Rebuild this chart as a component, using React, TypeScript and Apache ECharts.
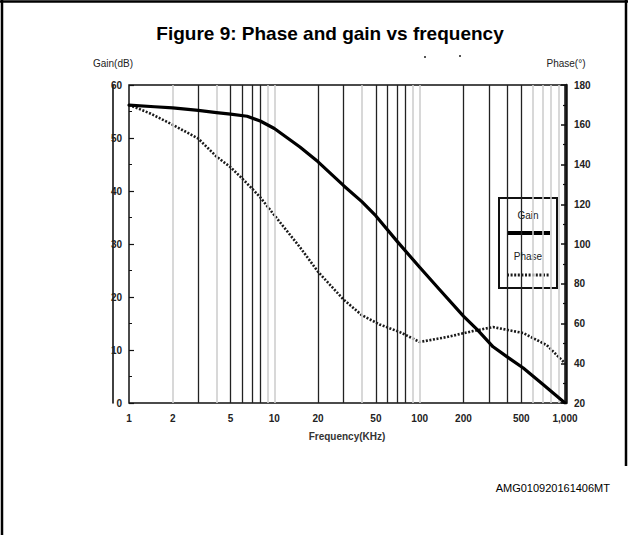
import React, { useEffect, useRef } from "react";
import * as echarts from "echarts";

const FONT = "'Liberation Sans', Arial, Helvetica, sans-serif";

// Gain curve (dB) vs frequency (kHz)
const gainFreq = [1, 1.5, 2, 3, 4, 5, 6.5, 8, 10, 15, 20, 30, 40, 50, 70, 100, 134, 200, 250, 320, 400, 516, 700, 1000];
const gainDb = [56.2, 55.9, 55.7, 55.2, 54.8, 54.5, 54.1, 53.2, 51.8, 48.3, 45.5, 41, 38, 35.3, 30.5, 25.6, 21.7, 16.4, 13.8, 10.6, 8.7, 6.6, 3.6, 0];

// Phase curve (degrees) vs frequency (kHz)
const phaseFreq = [1, 1.4, 2, 3, 4, 5, 6, 7, 8, 10, 15, 20, 30, 40, 53, 73, 100, 154, 233, 320, 516, 750, 950, 1000];
const phaseDeg = [170, 165.7, 160, 153, 144, 138.6, 133, 128, 123.5, 114.5, 98.4, 86, 72, 64.2, 59.5, 55.7, 50.7, 53.2, 56.2, 58.2, 55.2, 49.1, 41.6, 40];

// Vertical grid lines (kHz)
const gridDark = [3, 5, 6, 7, 8, 20, 30, 50, 60, 70, 80, 200, 300, 400, 500];
const gridLight = [2, 4, 9, 10, 40, 90, 100, 600, 700, 800, 900];

// X tick labels
const xTicks = [1, 2, 5, 10, 20, 50, 100, 200, 500, 1000];
const xTickText = ["1", "2", "5", "10", "20", "50", "100", "200", "500", "1,000"];

export default function App() {
  const ref = useRef<HTMLDivElement>(null);

  useEffect(() => {
    if (!ref.current) return;
    const chart = echarts.init(ref.current, null, { renderer: "svg" });

    const gridMarks: any[] = [];
    gridDark.forEach((v) =>
      gridMarks.push({ xAxis: v, lineStyle: { color: "#222", width: 1.3, type: "solid" }, label: { show: false } })
    );
    gridLight.forEach((v) =>
      gridMarks.push({ xAxis: v, lineStyle: { color: "#cfcfcf", width: 1.6, type: "solid" }, label: { show: false } })
    );
    const labelMarks: any[] = xTicks.map((v, i) => ({
      xAxis: v,
      lineStyle: { color: "rgba(255,255,255,0)", width: 1, type: "solid" },
      label: {
        show: true,
        position: "start",
        distance: 10,
        formatter: xTickText[i],
        color: "#222",
        fontSize: 10,
        fontWeight: "bold",
        fontFamily: FONT,
      },
    }));

    const option: any = {
      animation: false,
      backgroundColor: "#ffffff",
      grid: {
        left: 129,
        right: 63,
        top: 85,
        bottom: 132,
        show: true,
        borderColor: "#111",
        borderWidth: 1.5,
        backgroundColor: "transparent",
        outerBoundsMode: "none",
      },
      xAxis: {
        type: "log",
        logBase: 10,
        min: 1,
        max: 1000,
        axisLine: { show: false },
        axisTick: { show: false },
        axisLabel: { show: false },
        splitLine: { show: false },
        minorSplitLine: { show: false },
        name: "Frequency(KHz)",
        nameLocation: "middle",
        nameGap: 28,
        nameTextStyle: { fontSize: 10, fontWeight: "bold", color: "#333", fontFamily: FONT },
      },
      yAxis: [
        {
          type: "value",
          position: "left",
          offset: 16,
          min: 0,
          max: 60,
          interval: 10,
          axisLine: { show: true, lineStyle: { color: "#111", width: 1.6 } },
          axisTick: { show: false },
          axisLabel: { margin: -9, fontSize: 10, fontWeight: "bold", color: "#222", fontFamily: FONT },
          splitLine: { show: false },
          name: "Gain(dB)",
          nameLocation: "end",
          nameGap: 17,
          nameTextStyle: { fontSize: 10, color: "#222", fontFamily: FONT, align: "center" },
        },
        {
          type: "value",
          position: "right",
          offset: 1,
          min: 20,
          max: 180,
          interval: 20,
          axisLine: { show: true, lineStyle: { color: "#111", width: 2.5 } },
          axisTick: { show: true, inside: true, length: 5, lineStyle: { color: "#111", width: 1.5 } },
          minorTick: { show: true, splitNumber: 2, length: 3, lineStyle: { color: "#111", width: 1.2 } },
          axisLabel: { margin: 8, fontSize: 10, fontWeight: "bold", color: "#222", fontFamily: FONT },
          splitLine: { show: false },
          name: "Phase(°)",
          nameLocation: "end",
          nameGap: 17,
          nameTextStyle: { fontSize: 10, color: "#222", fontFamily: FONT, align: "center" },
        },
        {
          type: "value",
          position: "left",
          offset: 0,
          min: 0,
          max: 60,
          interval: 10,
          axisLine: { show: false },
          axisTick: { show: true, inside: true, length: 5, lineStyle: { color: "#111", width: 1.2 } },
          minorTick: { show: true, splitNumber: 2, length: 3, lineStyle: { color: "#111", width: 1 } },
          axisLabel: { show: false },
          splitLine: { show: false },
        },
      ],
      series: [
        {
          type: "line",
          name: "grid",
          data: [],
          xAxisIndex: 0,
          yAxisIndex: 0,
          z: 1,
          silent: true,
          markLine: {
            silent: true,
            symbol: ["none", "none"],
            animation: false,
            data: gridMarks,
          },
        },
        {
          type: "line",
          name: "ticks",
          data: [],
          xAxisIndex: 0,
          yAxisIndex: 0,
          z: 6,
          silent: true,
          markLine: {
            silent: true,
            symbol: ["none", "none"],
            animation: false,
            data: labelMarks,
          },
        },
        {
          type: "line",
          name: "Gain",
          xAxisIndex: 0,
          yAxisIndex: 0,
          z: 5,
          symbol: "none",
          data: gainFreq.map((f, i) => [f, gainDb[i]]),
          lineStyle: { color: "#000", width: 3.2, cap: "round", join: "round" },
        },
        {
          type: "line",
          name: "Phase",
          xAxisIndex: 0,
          yAxisIndex: 1,
          z: 4,
          symbol: "none",
          data: phaseFreq.map((f, i) => [f, phaseDeg[i]]),
          lineStyle: { color: "#1a1a1a", width: 2.6, type: [2, 1.6], cap: "butt" },
        },
      ],
      graphic: [
        { type: "line", shape: { x1: 2, y1: 0, x2: 2, y2: 535 }, style: { stroke: "#000", lineWidth: 2.5 }, z: 10 },
        { type: "line", shape: { x1: 0, y1: 1.5, x2: 628, y2: 1.5 }, style: { stroke: "#000", lineWidth: 2.5 }, z: 10 },
        { type: "line", shape: { x1: 626, y1: 0, x2: 626, y2: 466 }, style: { stroke: "#000", lineWidth: 2.5 }, z: 10 },
        {
          type: "text",
          x: 330,
          y: 33,
          style: {
            text: "Figure 9: Phase and gain vs frequency",
            fontSize: 19,
            fontWeight: "bold",
            fontFamily: FONT,
            fill: "#000",
            textAlign: "center",
            textVerticalAlign: "middle",
          },
          z: 10,
        },
        { type: "rect", shape: { x: 424, y: 56, width: 2, height: 2 }, style: { fill: "#555" }, z: 10 },
        { type: "rect", shape: { x: 459, y: 55, width: 2, height: 2 }, style: { fill: "#555" }, z: 10 },
        {
          type: "group",
          z: 20,
          children: [
            { type: "rect", shape: { x: 499, y: 198, width: 58, height: 90 }, style: { fill: "#fff", stroke: "#111", lineWidth: 2 } },
            {
              type: "text",
              x: 528,
              y: 215,
              style: { text: "Gain", fontSize: 10, fontFamily: FONT, fill: "#222", textAlign: "center", textVerticalAlign: "middle" },
            },
            { type: "line", shape: { x1: 507, y1: 233, x2: 550, y2: 233 }, style: { stroke: "#000", lineWidth: 4 } },
            {
              type: "text",
              x: 528,
              y: 256,
              style: { text: "Phase", fontSize: 10, fontFamily: FONT, fill: "#222", textAlign: "center", textVerticalAlign: "middle" },
            },
            {
              type: "line",
              shape: { x1: 507, y1: 275, x2: 550, y2: 275 },
              style: { stroke: "#1a1a1a", lineWidth: 3, lineDash: [2, 1.6] },
            },
          ],
        },
        {
          type: "text",
          x: 610,
          y: 488,
          style: {
            text: "AMG010920161406MT",
            fontSize: 11,
            fontFamily: FONT,
            fill: "#000",
            textAlign: "right",
            textVerticalAlign: "middle",
          },
          z: 10,
        },
      ],
    };

    chart.setOption(option);
    return () => chart.dispose();
  }, []);

  return (
    <div
      ref={ref}
      style={{ position: "absolute", left: 0, top: 0, width: 628, height: 535, background: "#fff" }}
    />
  );
}
